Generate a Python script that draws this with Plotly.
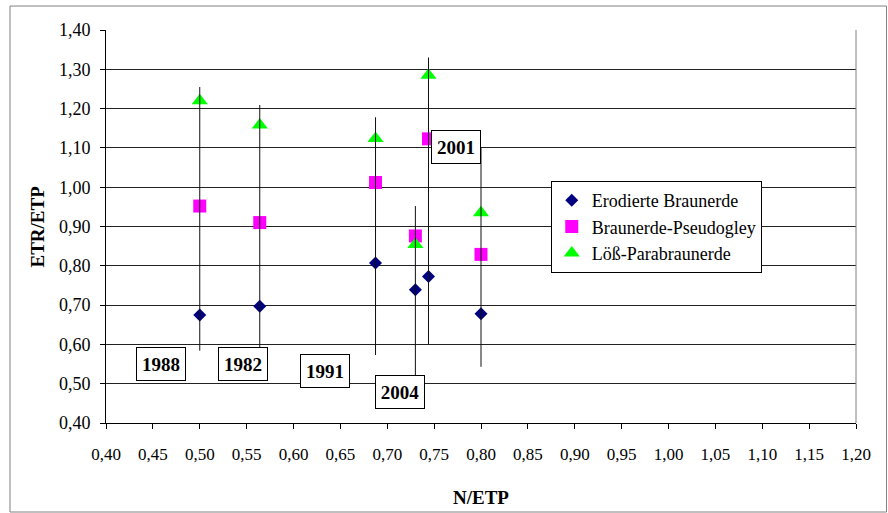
import plotly.graph_objects as go

# ---- data ----
n_etp = [0.50, 0.564, 0.6875, 0.730, 0.744, 0.80]
erodierte = [0.675, 0.697, 0.807, 0.739, 0.773, 0.678]
pseudogley = [0.952, 0.910, 1.012, 0.876, 1.123, 0.829]
loess = [1.220, 1.158, 1.124, 0.854, 1.285, 0.935]
range_low = [0.584, 0.589, 0.573, 0.50, 0.60, 0.543]
range_high = [1.255, 1.209, 1.178, 0.952, 1.330, 1.10]

year_labels = ["1988", "1982", "1991", "2004", "2001"]
label_x = [0.4586, 0.5466, 0.6335, 0.7134, 0.7730]
label_y = [0.5505, 0.5490, 0.5327, 0.4790, 1.1020]

x_ticks = [round(0.40 + 0.05 * i, 2) for i in range(17)]
y_ticks = [round(0.40 + 0.10 * i, 2) for i in range(11)]

FONT = "Liberation Serif, Times New Roman, serif"

fig = go.Figure()

fig.add_trace(go.Scatter(
    x=n_etp, y=erodierte, mode="markers", name="Erodierte Braunerde",
    legendgroup="a",
    marker=dict(symbol="diamond", size=10, color="#000080", line=dict(width=0))))
fig.add_trace(go.Scatter(
    x=n_etp, y=pseudogley, mode="markers", name="Braunerde-Pseudogley",
    legendgroup="b",
    marker=dict(symbol="square", size=13, color="#FF00FF", line=dict(width=0))))
fig.add_trace(go.Scatter(
    x=n_etp, y=loess, mode="markers", name="Löß-Parabraunerde",
    legendgroup="c",
    marker=dict(symbol="triangle-up", size=14, color="#00FF00", line=dict(width=0))))

# vertical range lines
lx, ly = [], []
for xv, lo, hi in zip(n_etp, range_low, range_high):
    lx += [xv, xv, None]
    ly += [lo, hi, None]
fig.add_trace(go.Scatter(x=lx, y=ly, mode="lines", showlegend=False,
                         line=dict(color="#111111", width=1), hoverinfo="skip"))

annotations = []
for t, xv, yv in zip(year_labels, label_x, label_y):
    annotations.append(dict(
        x=xv, y=yv, xref="x", yref="y", text="<b>%s</b>" % t, showarrow=False,
        font=dict(family=FONT, size=19, color="black"),
        bgcolor="white", bordercolor="black", borderwidth=1,
        width=46, height=30, borderpad=1))

annotations.append(dict(
    x=-0.0907, y=0.5, xref="paper", yref="paper", text="<b>ETR/ETP</b>",
    xanchor="center", yanchor="middle",
    textangle=-90, showarrow=False, font=dict(family=FONT, size=19, color="black")))
annotations.append(dict(
    x=0.5, y=-0.19, xref="paper", yref="paper", text="<b>N/ETP</b>",
    xanchor="center", yanchor="middle",
    showarrow=False, font=dict(family=FONT, size=19, color="black")))

fig.update_layout(
    width=888, height=513,
    margin=dict(l=106, r=32, t=30, b=90),
    paper_bgcolor="white", plot_bgcolor="white",
    separators=", ",
    font=dict(family=FONT, size=17, color="black"),
    annotations=annotations,
    shapes=[
        dict(type="rect", xref="paper", yref="paper",
             x0=-0.128, x1=1.0407, y0=-0.2265, y1=1.061,
             line=dict(color="#808080", width=1), layer="below"),
        dict(type="line", xref="paper", yref="paper",
             x0=1, x1=1, y0=0, y1=1, line=dict(color="#808080", width=1)),
    ],
    legend=dict(
        x=0.593, y=0.6158, xanchor="left", yanchor="top",
        bgcolor="white", bordercolor="black", borderwidth=1,
        font=dict(family=FONT, size=18, color="black"),
        tracegroupgap=9, traceorder="normal"),
    xaxis=dict(
        range=[0.40, 1.20], tickvals=x_ticks, tickformat=".2f",
        showgrid=False, zeroline=False,
        showline=True, linecolor="black", linewidth=1,
        ticks="outside", ticklen=5, tickcolor="black",
        tickfont=dict(family=FONT, size=17), ticklabelstandoff=11),
    yaxis=dict(
        range=[0.40, 1.40], tickvals=y_ticks, tickformat=".2f",
        showgrid=True, gridcolor="#222222", gridwidth=1, zeroline=False,
        showline=True, linecolor="black", linewidth=1,
        ticks="outside", ticklen=5, tickcolor="black",
        tickfont=dict(family=FONT, size=18), ticklabelstandoff=6),
)

fig.write_html("out.html", config={"displayModeBar": False},
               post_script="document.body.style.margin='0';")
